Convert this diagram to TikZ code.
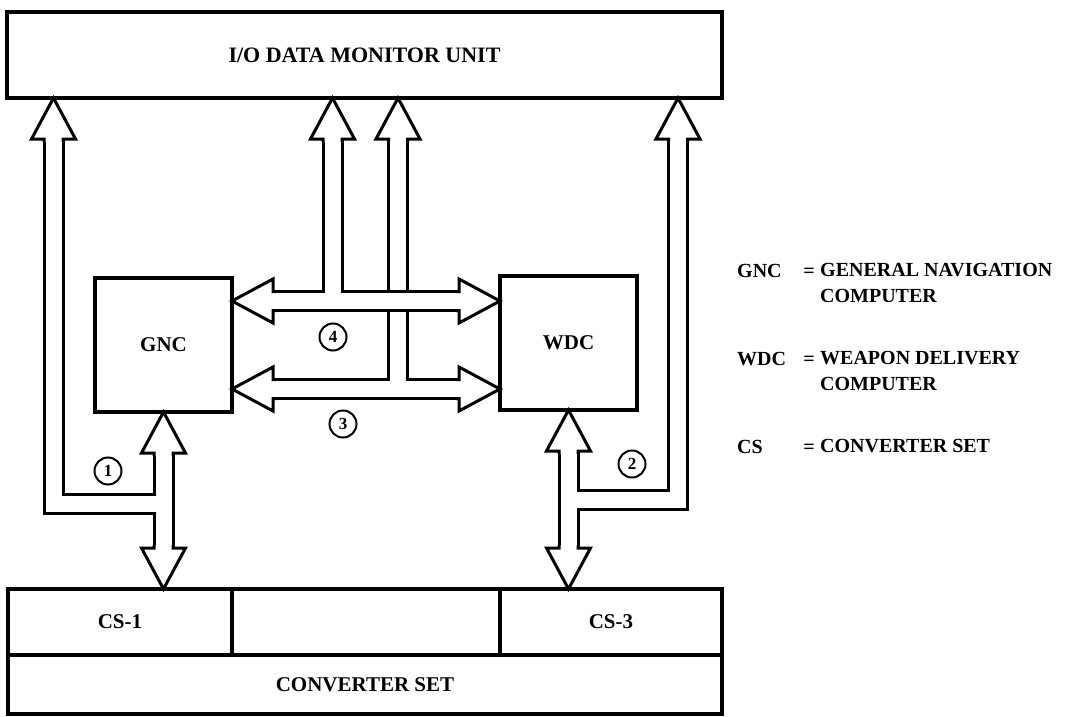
\documentclass[tikz,border=0pt]{standalone}
\usepackage{fontspec}
\setmainfont{Liberation Serif}
\usetikzlibrary{calc, positioning}

\begin{document}
\begin{tikzpicture}[
    x=1pt, y=-1pt,
    font=\fontsize{20}{26}\selectfont\bfseries,
    unit/.style={
        draw,
        line width=4pt,
        inner sep=0pt,
        outer sep=0pt,
        font=\fontsize{21}{26}\selectfont\bfseries
    },
    tag/.style={circle, draw, line width=2pt, minimum size=27pt, inner sep=0pt,
        font=\fontsize{17}{17}\selectfont\bfseries},
    pipeout/.style={line width=22pt, line join=miter},
    pipein/.style={white, line width=16pt, line join=miter},
    pipehead/.pic={
        \filldraw[fill=white, line width=3pt, line join=miter]
            (-9.5,44) -- (-9.5,41) -- (-22,41) -- (0,0) -- (22,41) -- (9.5,41) -- (9.5,44);
    },
    abbr/.style={anchor=base west, inner sep=0pt},
    defn/.style={anchor=north west, inner sep=0pt, align=left}
]
\useasboundingbox (0,0) rectangle (1066,717);

\node[unit, minimum width=715pt, minimum height=86pt, font=\fontsize{22}{26}\selectfont\bfseries] (iomu) at (364.5,55) {I/O DATA MONITOR UNIT};
\node[unit, minimum width=137pt, minimum height=134pt] (gnc) at (163.5,345) {GNC};
\node[unit, minimum width=137pt, minimum height=134pt] (wdc) at (568.5,343) {WDC};
\node[unit, minimum width=224pt, minimum height=66pt] (cs1) at (120,622) {CS-1};
\node[unit, minimum width=268pt, minimum height=66pt, right=0pt of cs1] (csx) {};
\node[unit, minimum width=222pt, minimum height=66pt, right=0pt of csx] (cs3) {CS-3};
\node[unit, minimum width=714pt, minimum height=59pt, anchor=north west] (cs) at (cs1.south west) {CONVERTER SET};

\coordinate (c1) at (53.5,504);
\coordinate (c2) at (678,500);
\coordinate (p4) at (332.5,301);
\coordinate (p3) at (398,389);

\foreach \pass in {pipeout, pipein} {
    \draw[\pass] ($(iomu.south -| c1)+(0,41)$) -- (c1) -- (c1 -| gnc.south);
    \draw[\pass] ($(iomu.south -| c2)+(0,41)$) -- (c2) -- (c2 -| wdc.south);
    \draw[\pass] ($(gnc.south)+(0,41)$) -- ($(cs1.north -| gnc.south)+(0,-41)$);
    \draw[\pass] ($(wdc.south)+(0,41)$) -- ($(cs3.north -| wdc.south)+(0,-41)$);
    \draw[\pass] ($(gnc.east |- p4)+(41,0)$) -- ($(wdc.west |- p4)+(-41,0)$);
    \draw[\pass] ($(gnc.east |- p3)+(41,0)$) -- ($(wdc.west |- p3)+(-41,0)$);
    \draw[\pass] ($(iomu.south -| p4)+(0,41)$) -- (p4);
    \draw[\pass] ($(iomu.south -| p3)+(0,41)$) -- ($(p4 -| p3)+(0,-11)$);
    \draw[\pass] ($(p4 -| p3)+(0,11)$) -- (p3);
}

\foreach \pt in {c1, c2, p4, p3}
    \pic at (iomu.south -| \pt) {pipehead};
\pic at (gnc.south) {pipehead};
\pic at (wdc.south) {pipehead};
\pic[rotate=180] at (cs1.north -| gnc.south) {pipehead};
\pic[rotate=180] at (cs3.north -| wdc.south) {pipehead};
\foreach \pt in {p4, p3} {
    \pic[rotate=90] at (gnc.east |- \pt) {pipehead};
    \pic[rotate=-90] at (wdc.west |- \pt) {pipehead};
}

\node[tag] (t1) at (108,471) {1};
\node[tag] (t2) at (632,464) {2};
\node[tag] (t3) at (343,424) {3};
\node[tag] (t4) at (333,337) {4};

\node[abbr] (kgnc) at (737,277) {GNC};
\node[abbr] (kwdc) at (737,365) {WDC};
\node[abbr] (kcs) at (737,453) {CS};
\node[abbr, anchor=base] (egnc) at (809,277) {=};
\node[abbr, anchor=base] (ewdc) at (809,365) {=};
\node[abbr, anchor=base] (ecs) at (809,453) {=};
\node[defn] (dgnc) at (820,263.5) {GENERAL NAVIGATION\\COMPUTER};
\node[defn] (dwdc) at (820,351.5) {WEAPON DELIVERY\\COMPUTER};
\node[defn] (dcs) at (820,439.5) {CONVERTER SET};
\end{tikzpicture}
\end{document}
